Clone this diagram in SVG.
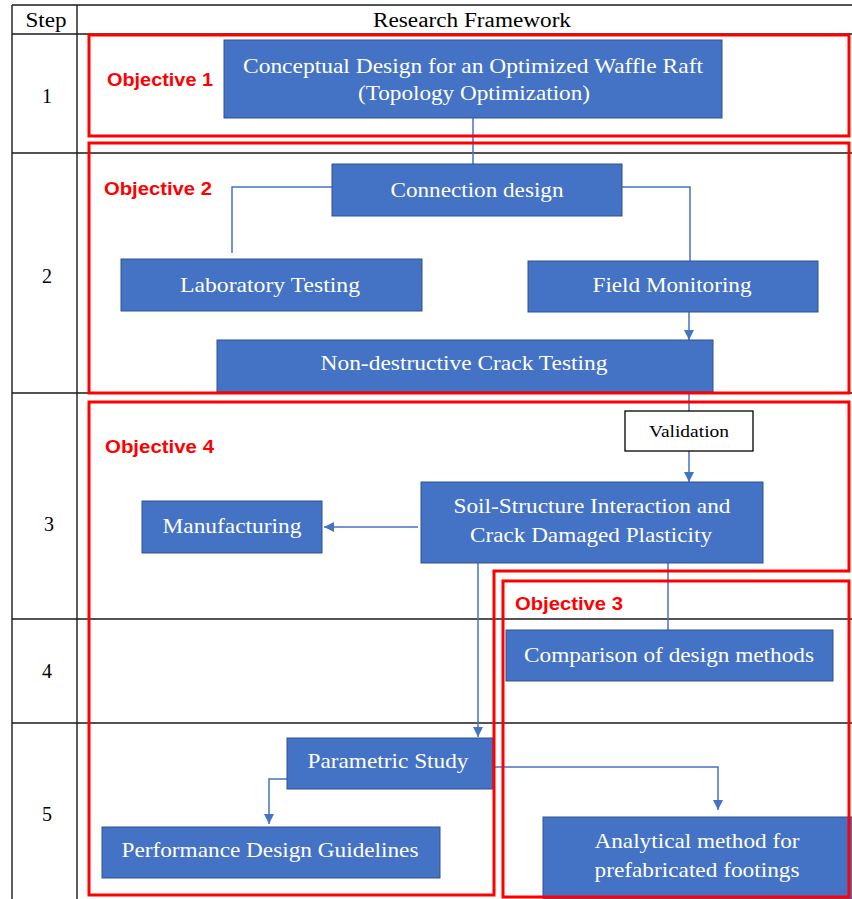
<svg xmlns="http://www.w3.org/2000/svg" width="852" height="899" viewBox="0 0 852 899">
<defs>
<style>
.grid{stroke:#1a1a1a;stroke-width:1.4;fill:none}
.hdr{font-family:"Liberation Serif","Times New Roman",serif;font-size:20px;fill:#000;text-anchor:middle}
.val{font-family:"Liberation Serif","Times New Roman",serif;font-size:16px;fill:#000;text-anchor:middle}
.node rect{fill:#4472C4;stroke:#2F528F;stroke-width:1}
.node text{font-family:"Liberation Serif","Times New Roman",serif;font-size:21px;fill:#fff;text-anchor:middle}
.obj{fill:none;stroke:#FF0000;stroke-width:3}
.objt{font-family:"Liberation Sans",Arial,sans-serif;font-weight:bold;font-size:19px;fill:#FF0000}
.con{fill:none;stroke:#4472C4;stroke-width:1.5}
</style>
<marker id="arr" viewBox="0 0 10 10" refX="10" refY="5" markerWidth="10" markerHeight="10" markerUnits="userSpaceOnUse" orient="auto">
<path d="M0,0 L10,5 L0,10 z" fill="#4472C4"/>
</marker>
</defs>
<rect width="852" height="899" fill="#fff"/>
<g id="table">
<line class="grid" x1="12" y1="5" x2="852" y2="5"/>
<line class="grid" x1="12" y1="34" x2="852" y2="34"/>
<line class="grid" x1="12" y1="153" x2="852" y2="153"/>
<line class="grid" x1="12" y1="393" x2="852" y2="393"/>
<line class="grid" x1="12" y1="619" x2="852" y2="619"/>
<line class="grid" x1="12" y1="723" x2="852" y2="723"/>
<line class="grid" x1="12" y1="5" x2="12" y2="899"/>
<line class="grid" x1="77" y1="5" x2="77" y2="899"/>
<text class="hdr" x="46" y="27" textLength="41" lengthAdjust="spacingAndGlyphs">Step</text>
<text class="hdr" x="472" y="27" textLength="198" lengthAdjust="spacingAndGlyphs">Research Framework</text>
<text class="hdr" x="47" y="103">1</text>
<text class="hdr" x="47" y="283">2</text>
<text class="hdr" x="49" y="531">3</text>
<text class="hdr" x="47" y="678">4</text>
<text class="hdr" x="47" y="821">5</text>
</g>
<g id="connectors">
<path class="con" d="M473,118 V164"/>
<path class="con" d="M332,187 H232 V253"/>
<path class="con" d="M622,187 H690 V261"/>
<path class="con" d="M689,312 V340" marker-end="url(#arr)"/>
<path class="con" d="M689,392 V411"/>
<path class="con" d="M689,451 V482" marker-end="url(#arr)"/>
<path class="con" d="M418,527 H324" marker-end="url(#arr)"/>
<path class="con" d="M478,563 V737" marker-end="url(#arr)"/>
<path class="con" d="M668,563 V630"/>
<path class="con" d="M287,779 H269 V824" marker-end="url(#arr)"/>
<path class="con" d="M493,767 H718 V810" marker-end="url(#arr)"/>
</g>
<g id="n-conceptual" class="node">
<rect x="224" y="40" width="498" height="78"/>
<text x="473" y="73" textLength="460" lengthAdjust="spacingAndGlyphs">Conceptual Design for an Optimized Waffle Raft</text>
<text x="474" y="100" textLength="232" lengthAdjust="spacingAndGlyphs">(Topology Optimization)</text>
</g>
<g id="n-connection" class="node">
<rect x="332" y="164" width="290" height="52"/>
<text x="477" y="197" textLength="173" lengthAdjust="spacingAndGlyphs">Connection design</text>
</g>
<g id="n-laboratory" class="node">
<rect x="121" y="259" width="301" height="52"/>
<text x="270" y="292" textLength="180" lengthAdjust="spacingAndGlyphs">Laboratory Testing</text>
</g>
<g id="n-field" class="node">
<rect x="528" y="261" width="290" height="51"/>
<text x="672" y="292" textLength="159" lengthAdjust="spacingAndGlyphs">Field Monitoring</text>
</g>
<g id="n-ndt" class="node">
<rect x="217" y="340" width="496" height="52"/>
<text x="464" y="370" textLength="287" lengthAdjust="spacingAndGlyphs">Non-destructive Crack Testing</text>
</g>
<g id="n-validation">
<rect x="625" y="411" width="128" height="40" fill="#fff" stroke="#000" stroke-width="1.3"/>
<text class="val" x="689" y="437" textLength="80" lengthAdjust="spacingAndGlyphs">Validation</text>
</g>
<g id="n-ssi" class="node">
<rect x="421" y="482" width="342" height="81"/>
<text x="592" y="513" textLength="277" lengthAdjust="spacingAndGlyphs">Soil-Structure Interaction and</text>
<text x="591" y="542" textLength="242" lengthAdjust="spacingAndGlyphs">Crack Damaged Plasticity</text>
</g>
<g id="n-manufacturing" class="node">
<rect x="142" y="501" width="180" height="52"/>
<text x="232" y="533" textLength="139" lengthAdjust="spacingAndGlyphs">Manufacturing</text>
</g>
<g id="n-comparison" class="node">
<rect x="506" y="630" width="327" height="51"/>
<text x="669" y="662" textLength="290" lengthAdjust="spacingAndGlyphs">Comparison of design methods</text>
</g>
<g id="n-parametric" class="node">
<rect x="287" y="738" width="206" height="51"/>
<text x="388" y="768" textLength="161" lengthAdjust="spacingAndGlyphs">Parametric Study</text>
</g>
<g id="n-performance" class="node">
<rect x="102" y="827" width="338" height="51"/>
<text x="270" y="857" textLength="297" lengthAdjust="spacingAndGlyphs">Performance Design Guidelines</text>
</g>
<g id="n-analytical" class="node">
<rect x="543" y="817" width="310" height="82"/>
<text x="697" y="848" textLength="205" lengthAdjust="spacingAndGlyphs">Analytical method for</text>
<text x="697" y="877" textLength="205" lengthAdjust="spacingAndGlyphs">prefabricated footings</text>
</g>
<g id="objectives">
<rect class="obj" x="89" y="35" width="760" height="101"/>
<rect class="obj" x="89" y="143" width="760" height="250"/>
<polygon class="obj" points="89,402 849,402 849,571 494,571 494,895 89,895"/>
<rect class="obj" x="503" y="581" width="346" height="316"/>
<text class="objt" x="107" y="86" textLength="106" lengthAdjust="spacingAndGlyphs">Objective 1</text>
<text class="objt" x="104" y="195" textLength="108" lengthAdjust="spacingAndGlyphs">Objective 2</text>
<text class="objt" x="105" y="453" textLength="109" lengthAdjust="spacingAndGlyphs">Objective 4</text>
<text class="objt" x="515" y="610" textLength="108" lengthAdjust="spacingAndGlyphs">Objective 3</text>
</g>
</svg>
